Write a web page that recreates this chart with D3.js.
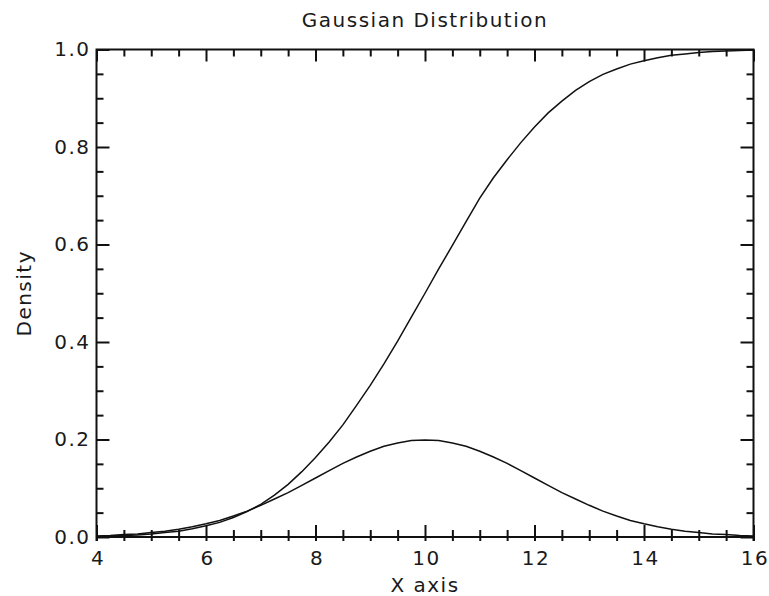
<!doctype html>
<html>
<head>
<title>Gaussian Distribution</title>
<meta charset="utf-8"/>
<script src="https://cdnjs.cloudflare.com/ajax/libs/d3/7.8.5/d3.min.js"></script>
<style>
body { margin: 0; background: #fff; }
text { font-family: "DejaVu Sans", sans-serif; fill: #1a1a1a; letter-spacing: 1.5px; }
</style>
</head>
<body>
<svg width="769" height="596"></svg>
<script>
var xValues = [4, 4.25, 4.5, 4.75, 5, 5.25, 5.5, 5.75, 6, 6.25, 6.5, 6.75, 7, 7.25, 7.5, 7.75,
  8, 8.25, 8.5, 8.75, 9, 9.25, 9.5, 9.75, 10, 10.25, 10.5, 10.75, 11, 11.25, 11.5, 11.75,
  12, 12.25, 12.5, 12.75, 13, 13.25, 13.5, 13.75, 14, 14.25, 14.5, 14.75, 15, 15.25, 15.5, 15.75, 16]

var pdfValues = [0.002, 0.003, 0.005, 0.006, 0.009, 0.012, 0.016, 0.021, 0.027, 0.034, 0.043, 0.053,
  0.065, 0.078, 0.091, 0.106, 0.121, 0.136, 0.151, 0.164, 0.176, 0.186, 0.193, 0.198, 0.199,
  0.198, 0.193, 0.186, 0.176, 0.164, 0.151, 0.136, 0.121, 0.106, 0.091, 0.078, 0.065, 0.053,
  0.043, 0.034, 0.027, 0.021, 0.016, 0.012, 0.009, 0.006, 0.005, 0.003, 0.002]

var cdfValues = [0.001, 0.002, 0.003, 0.004, 0.006, 0.009, 0.012, 0.017, 0.023, 0.030, 0.040, 0.052,
  0.067, 0.086, 0.108, 0.134, 0.163, 0.195, 0.230, 0.270, 0.311, 0.355, 0.402, 0.451, 0.500,
  0.550, 0.598, 0.647, 0.695, 0.737, 0.774, 0.809, 0.841, 0.870, 0.894, 0.916, 0.934, 0.949,
  0.960, 0.970, 0.977, 0.983, 0.988, 0.991, 0.994, 0.996, 0.997, 0.998, 0.999]

var xMajor = [4, 6, 8, 10, 12, 14, 16]
var xMinor = [4.5, 5, 5.5, 6.5, 7, 7.5, 8.5, 9, 9.5, 10.5, 11, 11.5, 12.5, 13, 13.5, 14.5, 15, 15.5]
var yMajor = [0, 0.2, 0.4, 0.6, 0.8, 1.0]
var yMinor = [0.05, 0.1, 0.15, 0.25, 0.3, 0.35, 0.45, 0.5, 0.55, 0.65, 0.7, 0.75, 0.85, 0.9, 0.95]

var pLeft = 96.5, pRight = 753.5, pTop = 49.5, pBottom = 537

var x = d3.scaleLinear().domain([4, 16]).range([pLeft, pRight])
var y = d3.scaleLinear().domain([0, 1]).range([pBottom, pTop])

var svg = d3.select("svg")

function styleAxis(g) {
  g.select(".domain").remove()
  g.selectAll(".tick line").attr("stroke", "#111").attr("stroke-width", 2)
  g.selectAll(".tick text").style("font-size", "20px").attr("fill", "#1a1a1a")
}

// bottom
svg.append("g").attr("transform", "translate(0," + pBottom + ")")
  .call(d3.axisBottom(x).tickValues(xMajor).tickFormat(d3.format("d")).tickSize(-12).tickPadding(14))
  .call(styleAxis)
  .call(g => g.selectAll(".tick line").attr("y1", 4))
  .call(g => g.selectAll(".tick text").attr("dx", "1px"))
svg.append("g").attr("transform", "translate(0," + pBottom + ")")
  .call(d3.axisBottom(x).tickValues(xMinor).tickFormat("").tickSize(-7))
  .call(styleAxis)
  .call(g => g.selectAll(".tick line").attr("y1", 4))

// top
svg.append("g").attr("transform", "translate(0," + pTop + ")")
  .call(d3.axisTop(x).tickValues(xMajor).tickFormat("").tickSize(-12))
  .call(styleAxis)
svg.append("g").attr("transform", "translate(0," + pTop + ")")
  .call(d3.axisTop(x).tickValues(xMinor).tickFormat("").tickSize(-7))
  .call(styleAxis)

// left
svg.append("g").attr("transform", "translate(" + pLeft + ",0)")
  .call(d3.axisLeft(y).tickValues(yMajor).tickFormat(d3.format(".1f")).tickSize(-13).tickPadding(6))
  .call(styleAxis)
svg.append("g").attr("transform", "translate(" + pLeft + ",0)")
  .call(d3.axisLeft(y).tickValues(yMinor).tickFormat("").tickSize(-7))
  .call(styleAxis)

// right
svg.append("g").attr("transform", "translate(" + pRight + ",0)")
  .call(d3.axisRight(y).tickValues(yMajor).tickFormat("").tickSize(-13))
  .call(styleAxis)
svg.append("g").attr("transform", "translate(" + pRight + ",0)")
  .call(d3.axisRight(y).tickValues(yMinor).tickFormat("").tickSize(-7))
  .call(styleAxis)

// frame
svg.append("path")
  .attr("d", "M" + pLeft + "," + (pBottom + 4) + "V" + pTop + "H" + pRight + "V" + (pBottom + 4)
    + "M" + pLeft + "," + pBottom + "H" + pRight)
  .attr("fill", "none").attr("stroke", "#111").attr("stroke-width", 2)

var line = d3.line().x((d, i) => x(xValues[i])).y(d => y(d))

svg.append("path").datum(pdfValues)
  .attr("d", line).attr("fill", "none").attr("stroke", "#111").attr("stroke-width", 1.5)
svg.append("path").datum(cdfValues)
  .attr("d", line).attr("fill", "none").attr("stroke", "#111").attr("stroke-width", 1.5)

svg.append("text").attr("x", (pLeft + pRight) / 2).attr("y", 27)
  .attr("text-anchor", "middle").style("font-size", "20px").text("Gaussian Distribution")

svg.append("text").attr("x", (pLeft + pRight) / 2).attr("y", 592)
  .attr("text-anchor", "middle").style("font-size", "20px").text("X axis")

svg.append("text").attr("transform", "translate(31," + ((pTop + pBottom) / 2) + ") rotate(-90)")
  .attr("text-anchor", "middle").style("font-size", "20px").text("Density")
</script>
</body>
</html>
